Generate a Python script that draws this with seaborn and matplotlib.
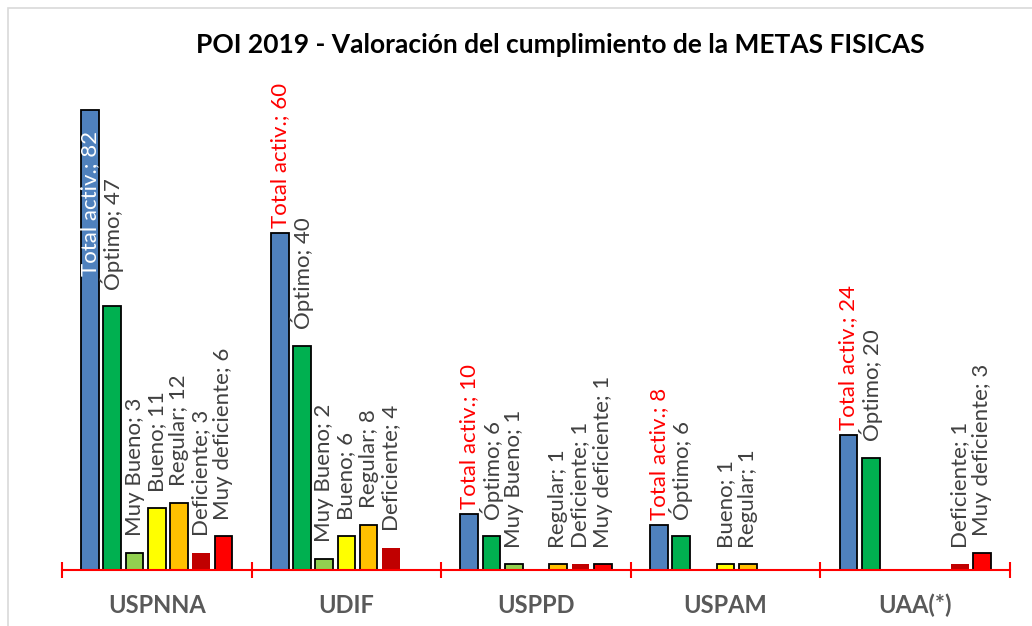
import pandas as pd
import matplotlib
matplotlib.use('Agg')
import matplotlib.pyplot as plt
import seaborn as sns
from matplotlib.patches import Rectangle

# ==========================================
# DATA
# ==========================================
units = ['USPNNA', 'UDIF', 'USPPD', 'USPAM', 'UAA(*)']
ratings = ['Total activ.', 'Óptimo', 'Muy Bueno', 'Bueno', 'Regular', 'Deficiente', 'Muy deficiente']

total_activ = [82, 60, 10, 8, 24]
optimo = [47, 40, 6, 6, 20]
muy_bueno = [3, 2, 1, 0, 0]
bueno = [11, 6, 0, 1, 0]
regular = [12, 8, 1, 1, 0]
deficiente = [3, 4, 1, 0, 1]
muy_deficiente = [6, 0, 1, 0, 3]

series = [total_activ, optimo, muy_bueno, bueno, regular, deficiente, muy_deficiente]
colors = ['#4F81BD', '#00B050', '#92D050', '#FFFF00', '#FFC000', '#C00000', '#FF0000']

rows = []
for rating, vals in zip(ratings, series):
    for unit, v in zip(units, vals):
        rows.append({'Unidad': unit, 'Valoracion': rating, 'Cantidad': v})
df = pd.DataFrame(rows)

# ==========================================
# PLOT
# ==========================================
sns.set_style('white')
plt.rcParams['font.family'] = ['Lato', 'DejaVu Sans']

fig = plt.figure(figsize=(10.32, 6.26), dpi=100)
ax = fig.add_axes([62 / 1032, 1 - 570 / 626, (1010 - 62) / 1032, 505 / 626])

sns.barplot(data=df, x='Unidad', y='Cantidad', hue='Valoracion', order=units,
            hue_order=ratings, palette=colors, saturation=1, width=0.82, gap=0.2,
            edgecolor='black', linewidth=1.3, legend=False, ax=ax)

# Deficiente bars have no outline
for container, rating in zip(ax.containers, ratings):
    if rating == 'Deficiente':
        for bar in container:
            bar.set_edgecolor('none')

# data labels "Rating; value" rotated
lab_size = 16
for container, rating in zip(ax.containers, ratings):
    for i, bar in enumerate(container):
        v = bar.get_height()
        if v == 0:
            continue
        xc = bar.get_x() + bar.get_width() / 2
        text = f'{rating}; {int(v)}'
        if rating == 'Total activ.':
            if v > 70:
                ax.annotate(text, (xc, v), xytext=(0, -15), textcoords='offset points',
                            rotation=90, ha='center', va='top', color='white', fontsize=lab_size)
            else:
                ax.annotate(text, (xc, v), xytext=(0, 3.5), textcoords='offset points',
                            rotation=90, ha='center', va='bottom', color='#FF0000', fontsize=lab_size)
        else:
            ax.annotate(text, (xc, v), xytext=(0, 12), textcoords='offset points',
                        rotation=90, ha='center', va='bottom', color='#404040', fontsize=lab_size)

ax.set_xlim(-0.5, 4.5)
ax.set_ylim(0, 90)
ax.set_yticks([])
ax.set_xlabel('')
ax.set_ylabel('')
for s in ['top', 'right', 'left']:
    ax.spines[s].set_visible(False)
ax.spines['bottom'].set_color('#FF0000')
ax.spines['bottom'].set_linewidth(1.5)

# group separator ticks and category labels
ax.set_xticks([-0.5, 0.5, 1.5, 2.5, 3.5, 4.5])
ax.set_xticklabels([])
ax.tick_params(axis='x', which='major', bottom=True, direction='inout', length=12,
               width=1.5, color='#FF0000')
ax.set_xticks(range(len(units)), minor=True)
ax.set_xticklabels(units, minor=True, fontsize=17, fontweight='bold', color='#595959')
ax.tick_params(axis='x', which='minor', bottom=True, length=0, pad=17)

fig.text(560 / 1032, 1 - 45 / 626, 'POI 2019 - Valoración del cumplimiento de la METAS FISICAS',
         ha='center', va='center', fontsize=19, fontweight='bold', color='black')

# light outer chart border
fig.patches.append(Rectangle((8 / 1032, -0.1), 1.2, 1 - 8 / 626 + 0.1, transform=fig.transFigure,
                             fill=False, edgecolor='#D9D9D9', linewidth=1.2))

fig.savefig('out.png', dpi=100)
plt.close()
